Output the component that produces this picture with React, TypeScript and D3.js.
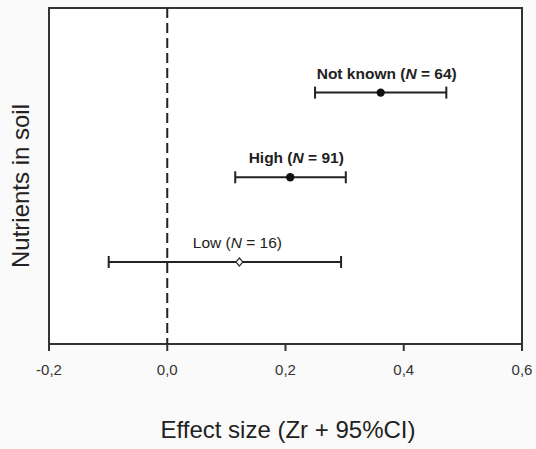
import React from "react";
import * as d3 from "d3";

const categories = ["Low", "High", "Not known"];
const sampleSizes = [16, 91, 64];
const means = [0.122, 0.208, 0.361];
const lowerCI = [-0.099, 0.115, 0.25];
const upperCI = [0.294, 0.302, 0.472];
const xTicks = [-0.2, 0, 0.2, 0.4, 0.6];

const W = 536;
const H = 449;
const M = { left: 49, right: 14, top: 8, bottom: 105 };

export default function App() {
  const x = d3.scaleLinear().domain([-0.2, 0.6]).range([M.left, W - M.right]);
  const y = d3.scaleLinear().domain([0, 2]).range([262, 92.6]);
  const rows = categories.map((c, i) => ({
    c,
    n: sampleSizes[i],
    m: means[i],
    lo: lowerCI[i],
    hi: upperCI[i],
    y: y(i),
  }));
  const font = "'Liberation Sans', Arial, sans-serif";
  const stroke = "#333";
  const capH = 6;
  return (
    <svg
      width={W}
      height={H}
      style={{ position: "absolute", left: 0, top: 0, background: "#fafafa" }}
      fontFamily={font}
    >
      <rect
        x={M.left}
        y={M.top}
        width={W - M.left - M.right}
        height={H - M.top - M.bottom}
        fill="#fff"
        stroke={stroke}
        strokeWidth={2}
      />
      <line
        x1={x(0)}
        x2={x(0)}
        y1={M.top}
        y2={H - M.bottom}
        stroke="#222"
        strokeWidth={2}
        strokeDasharray="10,5"
      />
      {xTicks.map((t) => (
        <g key={t}>
          <line
            x1={x(t)}
            x2={x(t)}
            y1={H - M.bottom}
            y2={H - M.bottom + 7}
            stroke={stroke}
            strokeWidth={2}
          />
          <text
            x={x(t)}
            y={H - M.bottom + 31}
            textAnchor="middle"
            fontSize={15}
            fill="#333"
          >
            {d3.format(".1f")(t).replace(".", ",").replace("−", "-")}
          </text>
        </g>
      ))}
      {rows.map((r) => {
        const bold = r.c !== "Low";
        return (
          <g key={r.c}>
            <line x1={x(r.lo)} x2={x(r.hi)} y1={r.y} y2={r.y} stroke="#222" strokeWidth={2} />
            <line x1={x(r.lo)} x2={x(r.lo)} y1={r.y - capH} y2={r.y + capH} stroke="#222" strokeWidth={2} />
            <line x1={x(r.hi)} x2={x(r.hi)} y1={r.y - capH} y2={r.y + capH} stroke="#222" strokeWidth={2} />
            {bold ? (
              <circle cx={x(r.m)} cy={r.y} r={4.2} fill="#111" />
            ) : (
              <path
                d={`M${x(r.m)},${r.y - 4}L${x(r.m) + 3.5},${r.y}L${x(r.m)},${r.y + 4}L${x(r.m) - 3.5},${r.y}Z`}
                fill="#fff"
                stroke="#333"
                strokeWidth={1.2}
              />
            )}
            <text
              x={x(r.m) + (bold ? 6 : -2)}
              y={r.y - 14}
              textAnchor="middle"
              fontSize={15.5}
              fontWeight={bold ? "bold" : "normal"}
              fill="#222"
            >
              {r.c + " ("}
              <tspan fontStyle="italic">N</tspan>
              {" = " + r.n + ")"}
            </text>
          </g>
        );
      })}
      <text x={288} y={438} textAnchor="middle" fontSize={24} fill="#222">
        Effect size (Zr + 95%CI)
      </text>
      <text
        transform={`translate(29,186) rotate(-90)`}
        textAnchor="middle"
        fontSize={24}
        fill="#222"
      >
        Nutrients in soil
      </text>
    </svg>
  );
}
